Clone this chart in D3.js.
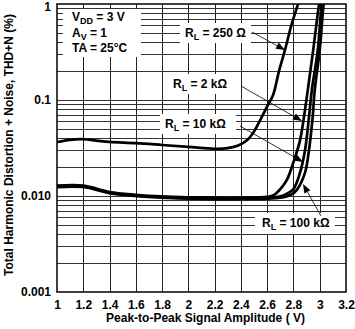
<!DOCTYPE html>
<html>
<head>
<meta charset="utf-8">
<script src="https://d3js.org/d3.v7.min.js"></script>
<style>
  html, body { margin: 0; padding: 0; background: #fff; }
  svg { display: block; }
  text { font-family: Arial, "Liberation Sans", Helvetica, sans-serif; font-weight: bold; font-size: 12px; fill: #000; }
</style>
</head>
<body>
<svg id="chart" width="355" height="329"></svg>
<script>
// ---- data ----
const xTicks = [1, 1.2, 1.4, 1.6, 1.8, 2, 2.2, 2.4, 2.6, 2.8, 3, 3.2];
const xTickLabels = ["1", "1.2", "1.4", "1.6", "1.8", "2", "2.2", "2.4", "2.6", "2.8", "3", "3.2"];
const yTicks = [0.001, 0.01, 0.1, 1];
const yTickLabels = ["0.001", "0.010", "0.1", "1"];

const rl250 = [[1.0,0.0365],[1.1,0.0385],[1.2,0.039],[1.3,0.0378],[1.4,0.0366],[1.6,0.0355],[1.8,0.034],[2.0,0.0325],[2.2,0.031],[2.3,0.0315],[2.38,0.0335],[2.45,0.0385],[2.5,0.047],[2.55,0.063],[2.6,0.086],[2.645,0.113],[2.69,0.2],[2.735,0.33],[2.784,0.6],[2.835,1.0],[2.86,1.3]];
const rl2k = [[1.0,0.0128],[1.2,0.0128],[1.4,0.0110],[1.6,0.0103],[1.8,0.0099],[2.0,0.0097],[2.2,0.0096],[2.4,0.0096],[2.6,0.0098],[2.65,0.0102],[2.7,0.0118],[2.75,0.0147],[2.8,0.0225],[2.85,0.038],[2.888,0.079],[2.91,0.13],[2.95,0.33],[2.995,1.0],[3.01,1.3]];
const rl10k = [[1.0,0.0126],[1.2,0.0126],[1.4,0.0108],[1.6,0.0101],[1.8,0.0097],[2.0,0.0095],[2.2,0.0094],[2.4,0.0094],[2.6,0.0095],[2.7,0.0099],[2.75,0.0106],[2.8,0.0118],[2.85,0.0175],[2.888,0.030],[2.918,0.066],[2.94,0.127],[2.985,0.33],[3.015,1.0],[3.03,1.3]];
const rl100k = [[1.0,0.0124],[1.2,0.0124],[1.4,0.0107],[1.6,0.0100],[1.8,0.0096],[2.0,0.0094],[2.2,0.0093],[2.4,0.0093],[2.6,0.0094],[2.7,0.0096],[2.78,0.0103],[2.826,0.0116],[2.888,0.0175],[2.918,0.030],[2.946,0.066],[2.962,0.127],[3.0,0.33],[3.03,1.0],[3.045,1.3]];

const seriesLabels = ["R_L = 250 Ω", "R_L = 2 kΩ", "R_L = 10 kΩ", "R_L = 100 kΩ"];
const conditions = ["V_DD = 3 V", "A_V = 1", "TA = 25°C"];
const xTitle = "Peak-to-Peak Signal Amplitude ( V)";
const yTitle = "Total Harmonic Distortion + Noise, THD+N (%)";

// ---- layout ----
const svg = d3.select("#chart");
const L = 57, R = 346, T = 4, B = 292;
const x = d3.scaleLinear().domain([1, 3.2]).range([L, R]);
const y = d3.scaleLog().domain([0.001, 1]).range([B, T]);

// grid
const grid = svg.append("g").attr("shape-rendering", "crispEdges");
const vLines = d3.range(1.2, 3.19, 0.2);
grid.selectAll("line.v").data(vLines).join("line")
  .attr("x1", d => Math.round(x(d)) + 0.5).attr("x2", d => Math.round(x(d)) + 0.5)
  .attr("y1", T).attr("y2", B).attr("stroke", "#222").attr("stroke-width", 1);
const hVals = [];
[0.001, 0.01, 0.1].forEach(dec => { for (let k = 1; k <= 9; k++) hVals.push(dec * k); });
grid.selectAll("line.h").data(hVals.filter(v => v > 0.0011)).join("line")
  .attr("x1", L).attr("x2", R)
  .attr("y1", d => Math.round(y(d)) + 0.5).attr("y2", d => Math.round(y(d)) + 0.5)
  .attr("stroke", "#333").attr("stroke-width", 1);

// clip
svg.append("clipPath").attr("id", "clip").append("rect")
  .attr("x", L).attr("y", T).attr("width", R - L).attr("height", B - T);

// label boxes (white backgrounds that cover the grid)
const boxes = svg.append("g");
boxes.append("rect").attr("x", 63).attr("y", 9).attr("width", 78).attr("height", 48).attr("fill", "#fff");
boxes.append("rect").attr("x", 180).attr("y", 23).attr("width", 71).attr("height", 20).attr("fill", "#fff");
boxes.append("rect").attr("x", 168).attr("y", 74).attr("width", 68).attr("height", 20).attr("fill", "#fff");
boxes.append("rect").attr("x", 160).attr("y", 114).attr("width", 76).attr("height", 20).attr("fill", "#fff");
boxes.append("rect").attr("x", 255).attr("y", 213).attr("width", 80).attr("height", 21).attr("fill", "#fff");

// curves
const line = d3.line().x(d => x(d[0])).y(d => y(d[1])).curve(d3.curveCatmullRom.alpha(0.5));
const curves = svg.append("g").attr("clip-path", "url(#clip)");
[rl250, rl2k, rl10k, rl100k].forEach(s => {
  curves.append("path").datum(s).attr("d", line)
    .attr("fill", "none").attr("stroke", "#000").attr("stroke-width", 2.7)
    .attr("stroke-linejoin", "round");
});

// frame
svg.append("rect").attr("x", L).attr("y", T).attr("width", R - L).attr("height", B - T)
  .attr("fill", "none").attr("stroke", "#000").attr("stroke-width", 1.5);

// axes labels via d3 axes (no lines)
const xAxis = svg.append("g").attr("transform", `translate(0,${B})`)
  .call(d3.axisBottom(x).tickValues(xTicks).tickSize(0).tickPadding(8.5)
    .tickFormat((d, i) => xTickLabels[i]));
xAxis.select(".domain").remove();
xAxis.selectAll("text").attr("font-size", 12).attr("font-family", null);

const yAxis = svg.append("g").attr("transform", `translate(${L},0)`)
  .call(d3.axisLeft(y).tickValues(yTicks).tickSize(0).tickPadding(6)
    .tickFormat((d, i) => yTickLabels[i]));
yAxis.select(".domain").remove();
yAxis.selectAll("text").attr("font-size", 12).attr("font-family", null)
  .attr("dy", d => d === 1 ? "0.5em" : "0.32em");

// titles
svg.append("text").attr("x", (L + R) / 2 + 4).attr("y", 322).attr("text-anchor", "middle").text(xTitle);
svg.append("text").attr("transform", `translate(13,${(T + B) / 2 - 3}) rotate(-90)`)
  .attr("text-anchor", "middle").text(yTitle);

// helper for text with subscript
function subText(g, str, xPos, yPos) {
  const t = g.append("text").attr("x", xPos).attr("y", yPos);
  const m = str.match(/^(\w+)_(\w+)(.*)$/);
  if (m) {
    t.append("tspan").text(m[1]);
    t.append("tspan").attr("dy", 3).attr("font-size", 9).text(m[2]);
    t.append("tspan").attr("dy", -3).text(m[3]);
  } else {
    t.text(str);
  }
  return t;
}

const ann = svg.append("g");
const condY = [21, 36.5, 52];
conditions.forEach((c, i) => subText(ann, c, 72, condY[i]));

const labelPos = [[185, 37], [173, 88], [165, 128], [262, 227]];
seriesLabels.forEach((s, i) => subText(ann, s, labelPos[i][0], labelPos[i][1]));

// arrows
const arrows = [
  [[252, 32], [285, 50]],
  [[241, 86], [302, 121]],
  [[240, 126], [303, 162]],
  [[321, 216], [303, 184]]
];
const ag = svg.append("g");
arrows.forEach(([a, b]) => {
  const dx = b[0] - a[0], dy = b[1] - a[1];
  const len = Math.hypot(dx, dy);
  const ux = dx / len, uy = dy / len;
  const hl = 9, hw = 3.5;
  const bx = b[0] - ux * hl, by = b[1] - uy * hl;
  ag.append("line").attr("x1", a[0]).attr("y1", a[1]).attr("x2", bx).attr("y2", by)
    .attr("stroke", "#000").attr("stroke-width", 0.8);
  ag.append("path").attr("d",
    `M${b[0]},${b[1]} L${bx - uy * hw},${by + ux * hw} L${bx + uy * hw},${by - ux * hw} Z`)
    .attr("fill", "#000");
});
</script>
</body>
</html>
